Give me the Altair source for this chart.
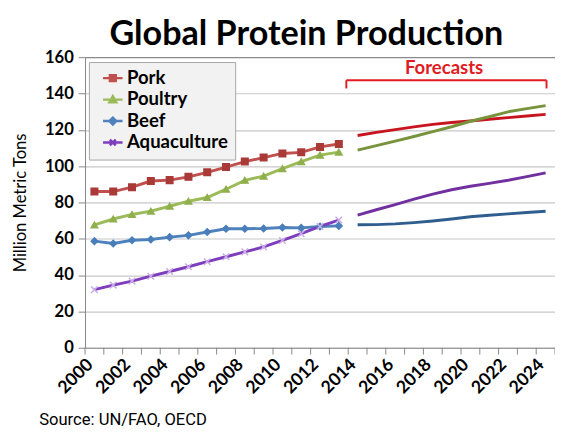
import altair as alt
import pandas as pd

# ---------------- data ----------------
series = ["Pork", "Poultry", "Beef", "Aquaculture"]
years_hist = list(range(2000, 2014))
years_fc = list(range(2014, 2025))

pork_hist = [86.0, 86.0, 88.4, 91.8, 92.3, 94.1, 96.6, 99.5, 102.5, 104.7, 107.0, 107.6, 110.6, 112.2]
poultry_hist = [67.6, 70.9, 73.4, 75.2, 77.9, 80.7, 82.7, 87.3, 92.2, 94.5, 98.6, 102.5, 106.1, 107.7]
beef_hist = [58.7, 57.4, 59.2, 59.6, 60.9, 61.9, 63.7, 65.5, 65.5, 65.7, 66.2, 66.0, 66.8, 67.1]
aqua_hist = [32.0, 34.5, 36.7, 39.4, 42.0, 44.6, 47.4, 50.1, 52.8, 55.5, 59.1, 62.8, 66.8, 70.3]

pork_fc = [116.9, 118.6, 120.1, 121.6, 123.0, 124.0, 124.9, 125.8, 126.7, 127.6, 128.5]
poultry_fc = [108.8, 111.3, 113.8, 116.3, 119.0, 121.7, 124.7, 127.2, 129.9, 131.7, 133.3]
beef_fc = [67.7, 67.8, 68.2, 68.9, 69.8, 70.9, 72.1, 73.0, 73.7, 74.5, 75.2]
aqua_fc = [73.0, 76.0, 78.8, 81.8, 84.6, 87.0, 88.9, 90.5, 92.2, 94.2, 96.3]

y_ticks = [0, 20, 40, 60, 80, 100, 120, 140, 160]
x_label_years = list(range(2000, 2025, 2))

forecast_label = "Forecasts"
bracket_x = [2013.4, 2024.05]
bracket_y = [147.3, 142.8]
title_text = "Global Protein Production"
source_text = "Source:  UN/FAO, OECD"

# ---------------- styling ----------------
hist_colors = ["#c0504d", "#9bbb59", "#4f81bd", "#7e3dbd"]
marker_fill = ["#a93a37", "#8fb04c", "#4a7ebb", "#c9aee6"]
fc_colors = ["#c8141e", "#77933c", "#2f5e8e", "#7030a0"]
marker_shapes = ["square", "triangle-up", "diamond", "M-1,-1L1,1M-1,1L1,-1"]
legend_paths = [
    "M-2,0H2M-0.6,-0.6H0.6V0.6H-0.6Z",
    "M-2,0H2M0,-0.7L0.7,0.55H-0.7Z",
    "M-2,0H2M0,-0.7L0.7,0L0,0.7L-0.7,0Z",
    "M-2,0H2M-0.6,-0.6L0.6,0.6M-0.6,0.6L0.6,-0.6",
]

hist_vals = [pork_hist, poultry_hist, beef_hist, aqua_hist]
fc_vals = [pork_fc, poultry_fc, beef_fc, aqua_fc]

hist = pd.DataFrame(
    [{"year": y, "value": v, "series": s} for s, vals in zip(series, hist_vals) for y, v in zip(years_hist, vals)]
)
fc = pd.DataFrame(
    [{"year": y, "value": v, "series": s} for s, vals in zip(series, fc_vals) for y, v in zip(years_fc, vals)]
)
bounds = pd.DataFrame({"b": [y - 0.5 for y in years_hist + years_fc] + [years_fc[-1] + 0.5]})
bracket = pd.DataFrame(
    {
        "x": [bracket_x[0], bracket_x[0], bracket_x[1]],
        "x2": [bracket_x[1], bracket_x[0], bracket_x[1]],
        "y": [bracket_y[0], bracket_y[0], bracket_y[0]],
        "y2": [bracket_y[0], bracket_y[1], bracket_y[1]],
    }
)
fc_text = pd.DataFrame({"x": [2018.6], "y": [150.6], "t": [forecast_label]})

FONT = "Lato"
W, H = 482, 298

xscale = alt.Scale(domain=[1999.5, 2024.5], nice=False, zero=False)
yscale = alt.Scale(domain=[0, 160], nice=False)

xaxis = alt.Axis(
    values=x_label_years,
    format="d",
    labelAngle=-45,
    ticks=False,
    labelPadding=8,
    labelOffset=-11,
    labelFont=FONT,
    labelFontWeight="bold",
    labelFontSize=18,
    labelColor="black",
    domainColor="#868686",
    grid=False,
    title=None,
    labelOverlap=False,
    labelFlush=False,
    labelBound=False,
)
yaxis = alt.Axis(
    values=y_ticks,
    grid=True,
    gridColor=alt.condition("datum.value == 160", alt.value("#8a8a8a"), alt.value("#c8c8c8")),
    gridWidth=1.2,
    tickSize=7,
    tickColor="#868686",
    domainColor="#868686",
    labelFont=FONT,
    labelFontWeight="bold",
    labelFontSize=17,
    labelColor="black",
    labelPadding=5,
    labelOverlap=False,
    labelFlush=False,
    title="Million Metric Tons",
    titleFont=FONT,
    titleFontSize=17,
    titleFontWeight="normal",
    titleColor="black",
    titlePadding=15,
)


def X(field):
    return alt.X(field, scale=xscale, axis=xaxis)


def Y(field):
    return alt.Y(field, scale=yscale, axis=yaxis)


hist_line = (
    alt.Chart(hist)
    .mark_line(strokeWidth=3)
    .encode(
        x=X("year:Q"),
        y=Y("value:Q"),
        color=alt.Color("series:N", scale=alt.Scale(domain=series, range=hist_colors), legend=None),
    )
)
hist_pts = (
    alt.Chart(hist)
    .mark_point(filled=False, size=45, strokeWidth=1.5, opacity=1)
    .encode(
        x=X("year:Q"),
        y=Y("value:Q"),
        shape=alt.Shape("series:N", scale=alt.Scale(domain=series, range=marker_shapes), legend=None),
        fill=alt.Fill("series:N", scale=alt.Scale(domain=series, range=marker_fill), legend=None),
        stroke=alt.Stroke("series:N", scale=alt.Scale(domain=series, range=marker_fill), legend=None),
    )
)
fc_line = (
    alt.Chart(fc)
    .mark_line(strokeWidth=3)
    .encode(
        x=X("year:Q"),
        y=Y("value:Q"),
        color=alt.Color("series:N", scale=alt.Scale(domain=series, range=fc_colors), legend=None),
    )
)

legend_props = dict(
    orient="none",
    legendX=4,
    legendY=5,
    title=None,
    fillColor="#f2f2f2",
    strokeColor="#a6a6a6",
    padding=7,
    symbolSize=100,
    symbolStrokeWidth=2.5,
    symbolOffset=8,
    labelOffset=5,
    labelFont=FONT,
    labelFontWeight="bold",
    labelFontSize=19,
    labelColor="black",
    rowPadding=2,
)
legend_layer = (
    alt.Chart(hist)
    .transform_filter("false")
    .mark_point(filled=True, opacity=1)
    .encode(
        x=X("year:Q"),
        y=Y("value:Q"),
        shape=alt.Shape("series:N", scale=alt.Scale(domain=series, range=legend_paths), legend=alt.Legend(**legend_props)),
        color=alt.Color("series:N", scale=alt.Scale(domain=series, range=hist_colors), legend=alt.Legend(**legend_props)),
        stroke=alt.Stroke("series:N", scale=alt.Scale(domain=series, range=hist_colors), legend=alt.Legend(**legend_props)),
    )
)

tick_rules = (
    alt.Chart(bounds)
    .mark_rule(color="#868686", strokeWidth=1)
    .encode(x=X("b:Q"), y=alt.value(H), y2=alt.value(H + 7))
)

bracket_rules = (
    alt.Chart(bracket)
    .mark_rule(color="#e01b22", strokeWidth=2)
    .encode(x=X("x:Q"), x2="x2:Q", y=Y("y:Q"), y2="y2:Q")
)
bracket_text = (
    alt.Chart(fc_text)
    .mark_text(font=FONT, fontWeight="bold", fontSize=19, color="#e01b22", baseline="alphabetic", align="center")
    .encode(x=X("x:Q"), y=Y("y:Q"), text="t:N")
)

title_mark = (
    alt.Chart(pd.DataFrame({"t": [title_text]}))
    .mark_text(font=FONT, fontWeight="bold", fontSize=35, color="black", baseline="alphabetic", align="center")
    .encode(x=alt.value(227), y=alt.value(-13), text="t:N")
)
source_mark = (
    alt.Chart(pd.DataFrame({"t": [source_text]}))
    .mark_text(
        font="Roboto",
        fontSize=17,
        color="black",
        baseline="alphabetic",
        align="left",
    )
    .encode(x=alt.value(-47), y=alt.value(377), text="t:N")
)

chart = (
    alt.layer(
        hist_line, fc_line, hist_pts, legend_layer, tick_rules, bracket_rules, bracket_text, title_mark, source_mark
    )
    .resolve_scale(color="independent", fill="independent", stroke="independent", shape="independent")
    .properties(
        width=W,
        height=H,
        autosize=alt.AutoSizeParams(type="none"),
        padding={"left": 79, "top": 45, "right": 0, "bottom": 82},
        background="white",
    )
    .configure_view(stroke=None)
)

chart.save("out.html", embed_options={"renderer": "svg", "actions": False})
